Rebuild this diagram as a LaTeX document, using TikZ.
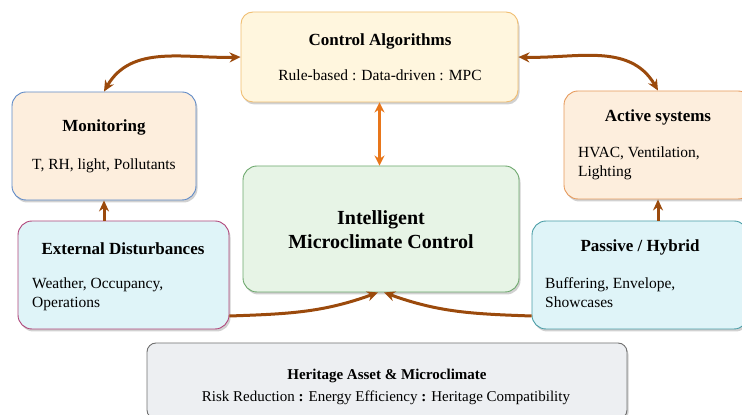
\documentclass[tikz,border=0pt]{standalone}
\usepackage{fontspec}
\setmainfont{Liberation Serif}
\usetikzlibrary{shadows,arrows.meta,calc}
\definecolor{ctrlfill}{HTML}{FFF6DE}
\definecolor{ctrldraw}{HTML}{F0BE72}
\definecolor{monfill}{HTML}{FDEEDD}
\definecolor{mondraw}{HTML}{5E8AC7}
\definecolor{actdraw}{HTML}{E69A5C}
\definecolor{extfill}{HTML}{DFF4F8}
\definecolor{extdraw}{HTML}{B0457A}
\definecolor{pasdraw}{HTML}{4A9DA6}
\definecolor{intfill}{HTML}{E7F4E6}
\definecolor{intdraw}{HTML}{6DA86D}
\definecolor{herfill}{HTML}{EDEFF2}
\definecolor{herdraw}{HTML}{707070}
\definecolor{brownarr}{HTML}{9B4A0C}
\definecolor{orangearr}{HTML}{E8761A}
\tikzset{
  box/.style={draw, line width=0.9pt, rounded corners=14pt, inner sep=0pt,
    drop shadow={shadow xshift=1.5pt, shadow yshift=-2.5pt, opacity=0.3, fill=black!60}},
  ttl/.style={font=\fontsize{17}{20}\selectfont\bfseries, inner sep=0pt},
  bdy/.style={font=\fontsize{15.5}{19}\selectfont, inner sep=0pt},
  bdyl/.style={font=\fontsize{15.5}{19}\selectfont, inner sep=0pt, align=left, anchor=north west},
  brarrow/.style={draw=brownarr, line width=3pt, -{Stealth[length=11pt,width=10pt]}},
  brdbl/.style={draw=brownarr, line width=3pt, {Stealth[length=11pt,width=10pt]}-{Stealth[length=11pt,width=10pt]}},
  ordbl/.style={draw=orangearr, line width=2.6pt, {Stealth[length=10pt,width=10pt]}-{Stealth[length=10pt,width=10pt]}},
}
\begin{document}
\begin{tikzpicture}[x=1pt,y=1pt]
\useasboundingbox (0,0) rectangle (742,415);
\clip (0,0) rectangle (742,415);
% boxes
\node[box, fill=ctrlfill, draw=ctrldraw, rounded corners=12pt, minimum width=277pt, minimum height=90pt] (ctrl) at (379.5,358) {};
\node[box, fill=monfill, draw=mondraw, minimum width=184pt, minimum height=108pt] (mon) at (104,269) {};
\node[box, fill=monfill, draw=actdraw, minimum width=188pt, minimum height=108pt] (act) at (658,270) {};
\node[box, fill=extfill, draw=extdraw, minimum width=211pt, minimum height=108pt] (ext) at (123.5,140) {};
\node[box, fill=extfill, draw=pasdraw, minimum width=216pt, minimum height=108pt] (pas) at (640,140) {};
\node[box, fill=intfill, draw=intdraw, minimum width=276pt, minimum height=126pt] (intel) at (381,186) {};
\node[box, fill=herfill, draw=herdraw, rounded corners=9pt, minimum width=480pt, minimum height=76pt] (her) at (387,34) {};
% texts
\node[ttl] (ctrlt) at (380,374) {Control Algorithms};
\node[bdy] (ctrlb) at (380,340) {Rule-based : Data-driven : MPC};
\node[ttl] (mont) at (104,288) {Monitoring};
\node[bdy] (monb) at (104,249) {T, RH, light, Pollutants};
\node[ttl] (actt) at (658,298) {Active systems};
\node[bdyl] (actb) at (578,268) {HVAC, Ventilation,\\Lighting};
\node[ttl] (extt) at (123,166) {External Disturbances};
\node[bdyl] (extb) at (32,137) {Weather, Occupancy,\\Operations};
\node[ttl] (past) at (640,168) {Passive / Hybrid};
\node[bdyl] (pasb) at (545,138) {Buffering, Envelope,\\Showcases};
\node[font=\fontsize{20}{24}\selectfont\bfseries, align=center, inner sep=0pt] (intt) at (381,185) {Intelligent\\Microclimate Control};
\node[font=\fontsize{15}{18}\selectfont\bfseries, inner sep=0pt] (hert) at (387,39) {Heritage Asset \& Microclimate};
\node[bdy, font=\fontsize{15}{18}\selectfont] (herb) at (386,17) {Risk Reduction \textbf{:} Energy Efficiency \textbf{:} Heritage Compatibility};
% connectors
\draw[brdbl] (ctrl.west) to[out=182, in=60] (mon.north);
\draw[brdbl] (ctrl.east) to[out=-2, in=120] (act.north);
\draw[ordbl] (ctrl.south) -- (ctrl.south |- intel.north);
\draw[brarrow] (mon.south |- ext.north) -- (mon.south);
\draw[brarrow] (act.south |- pas.north) -- (act.south);
\coordinate (extout) at ($(ext.east)+(0,-41)$);
\coordinate (pasout) at ($(pas.west)+(0,-41)$);
\draw[brarrow] (extout) to[out=2, in=200] ($(intel.south)+(-3,0)$);
\draw[brarrow] (pasout) to[out=178, in=-20] ($(intel.south)+(3,0)$);
\end{tikzpicture}
\end{document}
